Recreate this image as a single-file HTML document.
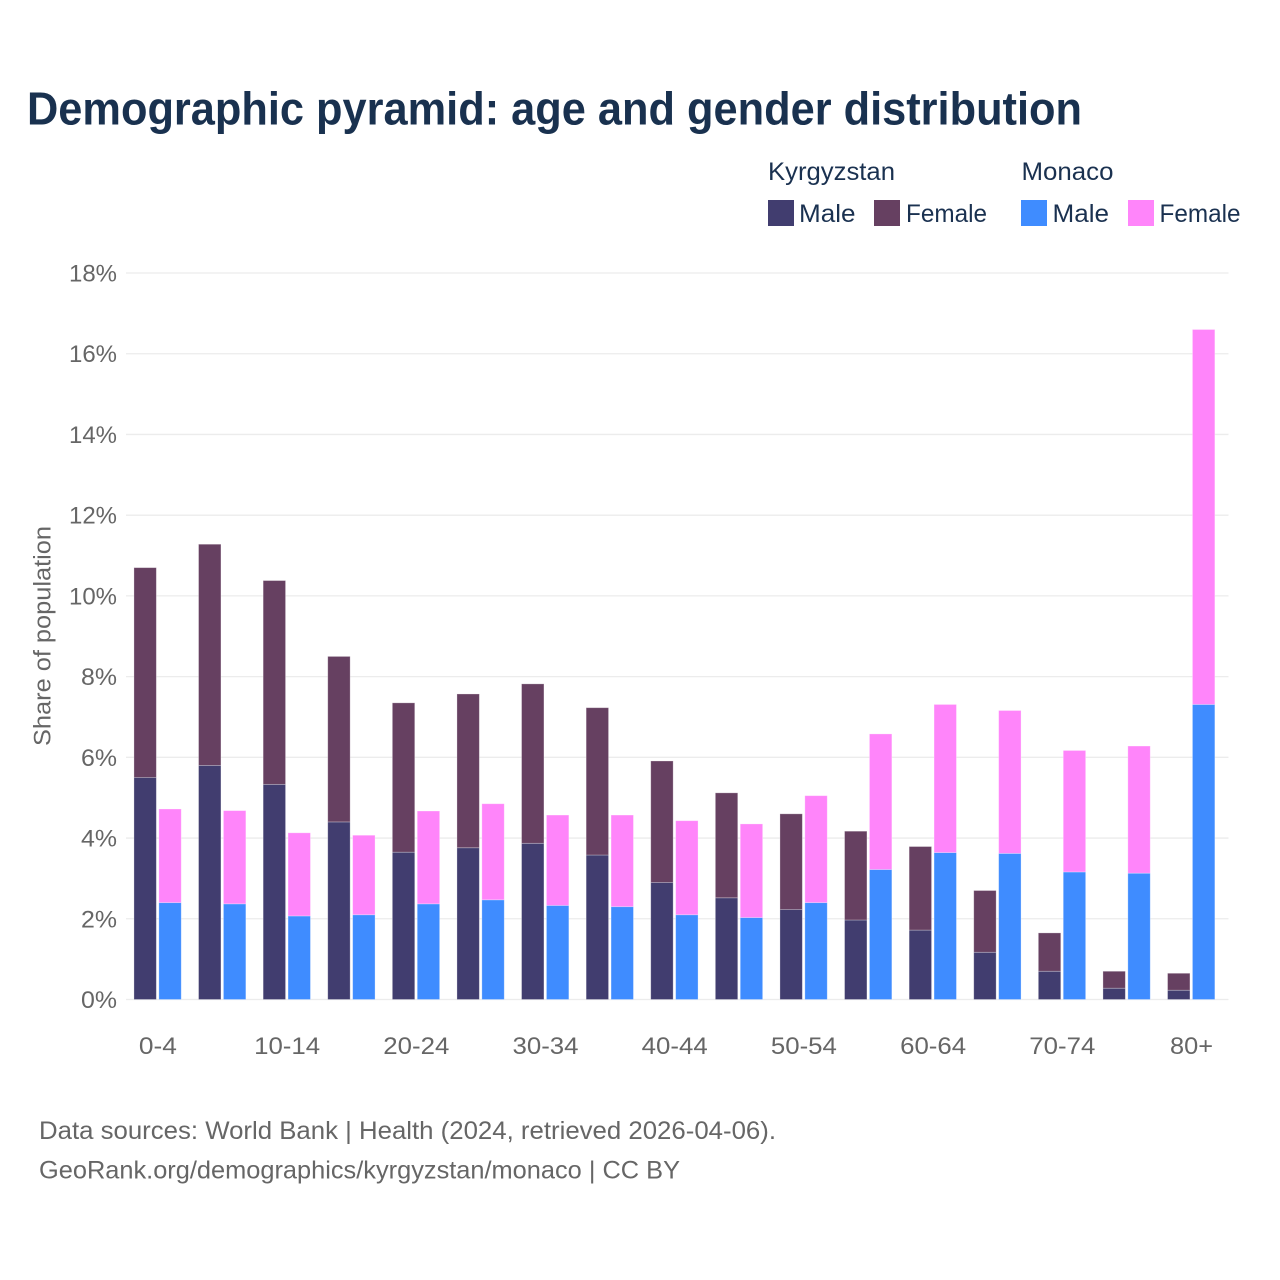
<!DOCTYPE html>
<html lang="en">
<head>
<meta charset="utf-8">
<title>Demographic pyramid</title>
<style>
html,body{margin:0;padding:0;background:#fff;width:1280px;height:1280px;overflow:hidden}
svg{display:block}
text{font-family:"Liberation Sans",sans-serif}
.axis{font-size:24px;fill:#666}
.leg{font-size:25px;fill:#1a3150}
.note{font-size:25px;fill:#666}
</style>
</head>
<body>
<svg id="chart" xmlns="http://www.w3.org/2000/svg" width="1280" height="1280" viewBox="0 0 1280 1280">
<rect width="1280" height="1280" fill="#fff"/>
<text x="27" y="124.5" font-size="46" font-weight="700" fill="#19314f" textLength="1055" lengthAdjust="spacingAndGlyphs">Demographic pyramid: age and gender distribution</text>

<g id="grid"></g>
<g id="yticks"></g>
<g id="bars"></g>
<g id="xticks"></g>

<text class="axis" transform="translate(50.5,746) rotate(-90)" textLength="220" lengthAdjust="spacingAndGlyphs">Share of population</text>

<g>
  <text class="leg" x="768" y="180" textLength="127" lengthAdjust="spacingAndGlyphs">Kyrgyzstan</text>
  <text class="leg" x="1021.5" y="180" textLength="92" lengthAdjust="spacingAndGlyphs">Monaco</text>
  <rect x="768" y="200" width="26" height="26" fill="#413d6f"/>
  <text class="leg" x="799" y="222" textLength="56.5" lengthAdjust="spacingAndGlyphs">Male</text>
  <rect x="874" y="200" width="26" height="26" fill="#664061"/>
  <text class="leg" x="906" y="222" textLength="81" lengthAdjust="spacingAndGlyphs">Female</text>
  <rect x="1021" y="200" width="26" height="26" fill="#3f8cff"/>
  <text class="leg" x="1052.5" y="222" textLength="56.5" lengthAdjust="spacingAndGlyphs">Male</text>
  <rect x="1128" y="200" width="26" height="26" fill="#ff85fa"/>
  <text class="leg" x="1159.5" y="222" textLength="81" lengthAdjust="spacingAndGlyphs">Female</text>
</g>

<text class="note" x="39" y="1139" textLength="737" lengthAdjust="spacingAndGlyphs">Data sources: World Bank | Health (2024, retrieved 2026-04-06).</text>
<text class="note" x="39" y="1178.5" textLength="641" lengthAdjust="spacingAndGlyphs">GeoRank.org/demographics/kyrgyzstan/monaco | CC BY</text>
</svg>
<script>
const ageGroups = ["0-4","5-9","10-14","15-19","20-24","25-29","30-34","35-39","40-44","45-49","50-54","55-59","60-64","65-69","70-74","75-79","80+"];
const shownAgeLabels = ["0-4","10-14","20-24","30-34","40-44","50-54","60-64","70-74","80+"];
const yTicks = [0,2,4,6,8,10,12,14,16,18];
const kgMale = [5.5,5.8,5.33,4.4,3.65,3.76,3.87,3.58,2.9,2.52,2.23,1.97,1.72,1.17,0.7,0.28,0.23];
const kgFemale = [5.2,5.48,5.05,4.1,3.7,3.81,3.95,3.65,3.01,2.6,2.37,2.2,2.07,1.53,0.95,0.42,0.42];
const mcMale = [2.4,2.37,2.07,2.1,2.37,2.47,2.33,2.3,2.1,2.03,2.4,3.22,3.64,3.62,3.16,3.13,7.31];
const mcFemale = [2.32,2.31,2.06,1.97,2.3,2.38,2.24,2.27,2.33,2.32,2.65,3.36,3.67,3.54,3.01,3.15,9.29];

const NS = "http://www.w3.org/2000/svg";
const plotBottom = 999.5, plotTop = 273, maxY = 18;
const firstCenter = 157.6, step = 64.6, barW = 22.4, barGap = 2.5;
function yScale(v){ return plotBottom - (v / maxY) * (plotBottom - plotTop); }
function xScale(i){ return firstCenter + i * step; }
function make(tag, attrs, parent){
  const el = document.createElementNS(NS, tag);
  for (const k in attrs) el.setAttribute(k, attrs[k]);
  parent.appendChild(el);
  return el;
}
const grid = document.getElementById("grid");
const yt = document.getElementById("yticks");
yTicks.forEach(function(t){
  const line = make("line", {x1:126, x2:1228.5, y1:yScale(t), y2:yScale(t), stroke:"#ececec", "stroke-width":1.3}, grid);
  
  
  const label = make("text", {x:117, y:yScale(t)+8.5, "text-anchor":"end", "class":"axis", textLength:(t>=10?48:36), lengthAdjust:"spacingAndGlyphs"}, yt);
  
  
  label.textContent = t + "%";
});
const bars = document.getElementById("bars");
function drawBar(x, base, val, color){
  const top = yScale(base + val), bottom = yScale(base);
  const r = make("rect", {x:x, y:top, width:barW, height:bottom-top, fill:color, stroke:"#fff", "stroke-opacity":0.35, "stroke-width":0.8}, bars);
  
  
}
ageGroups.forEach(function(g, i){
  const c = xScale(i);
  const x1 = c - barGap/2 - barW, x2 = c + barGap/2;
  drawBar(x1, 0, kgMale[i], "#413d6f");
  drawBar(x1, kgMale[i], kgFemale[i], "#664061");
  drawBar(x2, 0, mcMale[i], "#3f8cff");
  drawBar(x2, mcMale[i], mcFemale[i], "#ff85fa");
});
const xt = document.getElementById("xticks");
ageGroups.forEach(function(g, i){
  if (shownAgeLabels.indexOf(g) < 0) return;
  const attrs = {x:xScale(i) + 0.3, y:1054, "text-anchor":"middle", "class":"axis"};
  attrs.textLength = g.length === 5 ? 66 : (g.length === 3 ? (g === "0-4" ? 38 : 43) : 40);
  attrs.lengthAdjust = "spacingAndGlyphs";
  const label = make("text", attrs, xt);
  
  
  label.textContent = g;
});
</script>
</body>
</html>
